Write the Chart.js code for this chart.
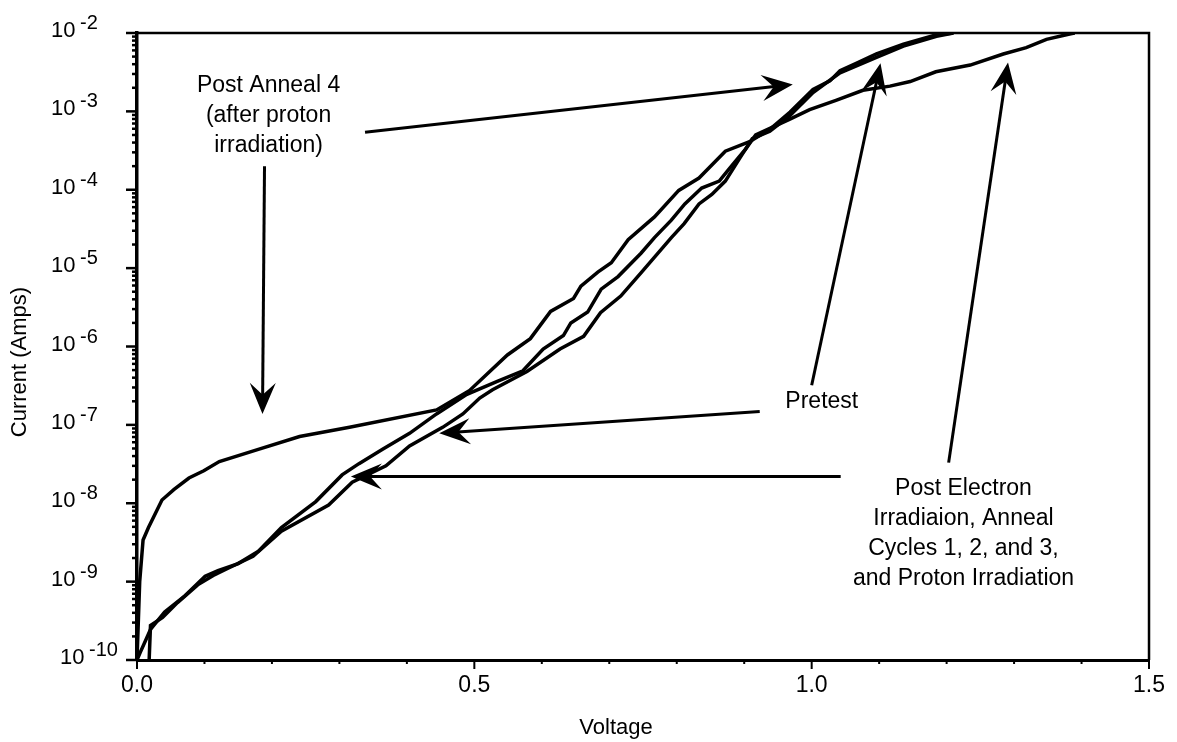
<!DOCTYPE html>
<html>
<head>
<meta charset="utf-8">
<script src="https://cdn.jsdelivr.net/npm/chart.js@4.4.0/dist/chart.umd.min.js"></script>
<style>
  body { margin: 0; background: #fff; }
  #wrap { width: 1177px; height: 742px; position: relative; }
</style>
</head>
<body>
<div id="wrap"><canvas id="myChart"></canvas></div>
<script>
// I-V curves (voltage in V, current in A)
const anneal4V = [0, 0.004, 0.009, 0.017, 0.037, 0.055, 0.077, 0.099, 0.122, 0.181,
  0.241, 0.315, 0.444, 0.493, 0.549, 0.583, 0.613, 0.647, 0.658, 0.683,
  0.703, 0.728, 0.767, 0.803, 0.833, 0.872, 0.908, 0.938, 0.968, 1.002,
  1.027, 1.042, 1.066, 1.096, 1.136, 1.185, 1.21];
const anneal4I = [1.0e-10, 1.0e-9, 3.4e-9, 4.9e-9, 1.1e-8, 1.5e-8, 2.1e-8, 2.6e-8, 3.4e-8, 4.9e-8,
  7.1e-8, 9.3e-8, 1.55e-7, 2.75e-7, 7.8e-7, 1.26e-6, 2.8e-6, 4.1e-6, 5.9e-6, 8.9e-6,
  1.17e-5, 2.3e-5, 4.5e-5, 9.8e-5, 1.41e-4, 3.1e-4, 4.1e-4, 5.9e-4, 9.8e-4, 1.9e-3,
  2.45e-3, 3.3e-3, 4.1e-3, 5.4e-3, 7.2e-3, 9.5e-3, 1.0e-2];

const electronV = [0, 0.005, 0.020, 0.041, 0.071, 0.101, 0.120, 0.150, 0.180, 0.214,
  0.265, 0.304, 0.329, 0.364, 0.404, 0.444, 0.489, 0.534, 0.572, 0.602,
  0.632, 0.643, 0.668, 0.688, 0.713, 0.747, 0.767, 0.792, 0.812, 0.837,
  0.863, 0.878, 0.902, 0.917, 0.967, 0.997, 1.036, 1.076, 1.116, 1.146,
  1.184, 1.235, 1.284, 1.318, 1.348, 1.384, 1.39];
const electronI = [1.0e-10, 1.26e-10, 2.45e-10, 4.1e-10, 6.6e-10, 1.17e-9, 1.38e-9, 1.7e-9, 2.45e-9, 4.9e-9,
  1.05e-8, 2.3e-8, 3.2e-8, 4.9e-8, 7.8e-8, 1.38e-7, 2.45e-7, 3.6e-7, 4.9e-7, 9.3e-7,
  1.38e-6, 2.0e-6, 2.75e-6, 5.4e-6, 7.8e-6, 1.55e-5, 2.45e-5, 4.1e-5, 6.6e-5, 1.05e-4,
  1.29e-4, 1.86e-4, 3.3e-4, 5.0e-4, 7.9e-4, 1.05e-3, 1.38e-3, 1.86e-3, 2.1e-3, 2.4e-3,
  3.2e-3, 3.9e-3, 5.4e-3, 6.5e-3, 8.3e-3, 9.8e-3, 1.0e-2];

const pretestV = [0.018, 0.020, 0.038, 0.060, 0.090, 0.113, 0.135, 0.172, 0.214, 0.284,
  0.319, 0.369, 0.404, 0.453, 0.483, 0.508, 0.527, 0.578, 0.627, 0.662,
  0.687, 0.717, 0.747, 0.792, 0.811, 0.833, 0.852, 0.872, 0.893, 0.912,
  0.938, 0.968, 1.002, 1.042, 1.096, 1.136, 1.185, 1.21];
const pretestI = [1.0e-10, 2.75e-10, 3.5e-10, 5.4e-10, 9.1e-10, 1.2e-9, 1.48e-9, 2.1e-9, 4.4e-9, 9.5e-9,
  1.86e-8, 3.0e-8, 5.4e-8, 9.3e-8, 1.38e-7, 2.2e-7, 2.8e-7, 4.8e-7, 9.3e-7, 1.35e-6,
  2.7e-6, 4.4e-6, 8.7e-6, 2.45e-5, 3.7e-5, 6.6e-5, 8.7e-5, 1.29e-4, 2.5e-4, 4.5e-4,
  5.6e-4, 8.9e-4, 1.74e-3, 3.1e-3, 4.9e-3, 6.8e-3, 9.1e-3, 1.0e-2];

const yDecades = [-10, -9, -8, -7, -6, -5, -4, -3, -2];
const xTickValues = [0, 0.5, 1.0, 1.5];

// annotations, in data units: [voltage, current]
const notes = [
  { lines: ["Post Anneal 4", "(after proton", "irradiation)"], at: [0.195, 2.1e-3] },
  { lines: ["Pretest"], at: [1.015, 2.0e-7] },
  { lines: ["Post Electron", "Irradiaion, Anneal", "Cycles 1, 2, and 3,", "and Proton Irradiation"], at: [1.225, 1.55e-8] },
];
const arrows = [
  { from: [0.189, 2.0e-4], to: [0.186, 1.38e-7] },
  { from: [0.338, 5.4e-4], to: [0.972, 2.2e-3] },
  { from: [1.000, 3.2e-7], to: [1.102, 4.1e-3] },
  { from: [0.923, 1.48e-7], to: [0.448, 7.8e-8] },
  { from: [1.203, 3.3e-8], to: [1.291, 4.2e-3] },
  { from: [1.043, 2.2e-8], to: [0.317, 2.2e-8] },
];

const FONT = '"Liberation Sans", Arial, Helvetica, sans-serif';

function toPoints(vs, is) {
  return vs.map((v, i) => ({ x: v, y: is[i] }));
}

function curve(label, vs, is) {
  return {
    label: label,
    data: toPoints(vs, is),
    showLine: true,
    borderColor: "#000",
    borderWidth: 3.5,
    pointRadius: 0,
    tension: 0,
    fill: false,
  };
}

function drawArrow(ctx, x1, y1, x2, y2) {
  const ang = Math.atan2(y2 - y1, x2 - x1);
  const c = Math.cos(ang), s = Math.sin(ang);
  const len = 31, half = 13;
  ctx.beginPath();
  ctx.moveTo(x1, y1);
  ctx.lineTo(x2 - c * len * 0.6, y2 - s * len * 0.6);
  ctx.stroke();
  const bx = x2 - c * len, by = y2 - s * len;
  ctx.beginPath();
  ctx.moveTo(x2, y2);
  ctx.lineTo(bx - s * half, by + c * half);
  ctx.lineTo(x2 - c * len * 0.62, y2 - s * len * 0.62);
  ctx.lineTo(bx + s * half, by - c * half);
  ctx.closePath();
  ctx.fill();
}

const extras = {
  id: "extras",
  afterDatasetsDraw(chart) {
    const { ctx, chartArea: a, scales } = chart;
    const x = scales.x, y = scales.y;
    ctx.save();
    ctx.strokeStyle = "#000";
    ctx.fillStyle = "#000";

    // top and right edges of the box
    ctx.lineWidth = 2.5;
    ctx.beginPath();
    ctx.moveTo(a.left, a.top);
    ctx.lineTo(a.right, a.top);
    ctx.lineTo(a.right, a.bottom);
    ctx.stroke();

    // log ticks on the left
    ctx.lineWidth = 2.5;
    yDecades.forEach((e) => {
      for (let k = 1; k < 10; k++) {
        if (e === -2 && k > 1) break;
        const py = y.getPixelForValue(k * Math.pow(10, e));
        ctx.beginPath();
        ctx.moveTo(a.left, py);
        ctx.lineTo(a.left - (k === 1 ? 11 : 5), py);
        ctx.stroke();
      }
    });

    // voltage ticks every 0.1
    ctx.lineWidth = 2;
    for (let i = 0; i <= 15; i++) {
      const px = x.getPixelForValue(i / 10);
      ctx.beginPath();
      ctx.moveTo(px, a.bottom);
      ctx.lineTo(px, a.bottom + (i % 5 === 0 ? 9 : 4));
      ctx.stroke();
    }

    // y tick labels as 10 with a raised exponent
    ctx.textAlign = "left";
    ctx.textBaseline = "alphabetic";
    yDecades.forEach((e) => {
      const py = y.getPixelForValue(Math.pow(10, e));
      const left = e === -10 ? 60 : 51;
      ctx.font = "22px " + FONT;
      ctx.fillText("10", left, py + 4);
      ctx.font = "20px " + FONT;
      ctx.fillText(String(e), left + 29, py - 4);
    });

    // axis titles
    ctx.font = "22px " + FONT;
    ctx.textAlign = "center";
    ctx.textBaseline = "middle";
    ctx.fillText("Voltage", 616, 728);
    ctx.save();
    ctx.translate(20, 362);
    ctx.rotate(-Math.PI / 2);
    ctx.fillText("Current (Amps)", 0, 0);
    ctx.restore();

    // arrows
    ctx.lineWidth = 3;
    arrows.forEach((ar) => {
      drawArrow(ctx,
        x.getPixelForValue(ar.from[0]), y.getPixelForValue(ar.from[1]),
        x.getPixelForValue(ar.to[0]), y.getPixelForValue(ar.to[1]));
    });

    // annotation text
    ctx.font = "23px " + FONT;
    notes.forEach((n) => {
      const px = x.getPixelForValue(n.at[0]);
      const py = y.getPixelForValue(n.at[1]);
      n.lines.forEach((line, i) => {
        ctx.fillText(line, px, py + i * 30);
      });
    });
    ctx.restore();
  },
};

Chart.defaults.font.family = FONT;
Chart.defaults.color = "#000";

const ctx = document.getElementById("myChart").getContext("2d");
const myChart = new Chart(ctx, {
  type: "scatter",
  data: {
    datasets: [
      curve("Post Anneal 4", anneal4V, anneal4I),
      curve("Post Electron", electronV, electronI),
      curve("Pretest", pretestV, pretestI),
    ],
  },
  options: {
    animation: false,
    responsive: true,
    maintainAspectRatio: false,
    layout: { padding: { left: 0, right: 27, top: 33, bottom: 0 } },
    scales: {
      x: {
        type: "linear",
        min: 0,
        max: 1.5,
        afterBuildTicks: (s) => {
          s.ticks = xTickValues.map((v) => ({ value: v }));
        },
        afterFit: (s) => {
          s.height = 82;
        },
        ticks: {
          autoSkip: false,
          maxRotation: 0,
          padding: 12,
          font: { size: 23 },
          color: "#000",
          callback: (v) => Number(v).toFixed(1),
        },
        grid: { drawOnChartArea: false, drawTicks: false },
        border: { display: true, color: "#000", width: 3 },
      },
      y: {
        type: "logarithmic",
        min: 1e-10,
        max: 1e-2,
        afterFit: (s) => {
          s.width = 137;
        },
        ticks: { display: false },
        grid: { drawOnChartArea: false, drawTicks: false },
        border: { display: true, color: "#000", width: 3.5 },
      },
    },
    plugins: {
      legend: { display: false },
      tooltip: { enabled: false },
    },
  },
  plugins: [extras],
});
</script>
</body>
</html>
